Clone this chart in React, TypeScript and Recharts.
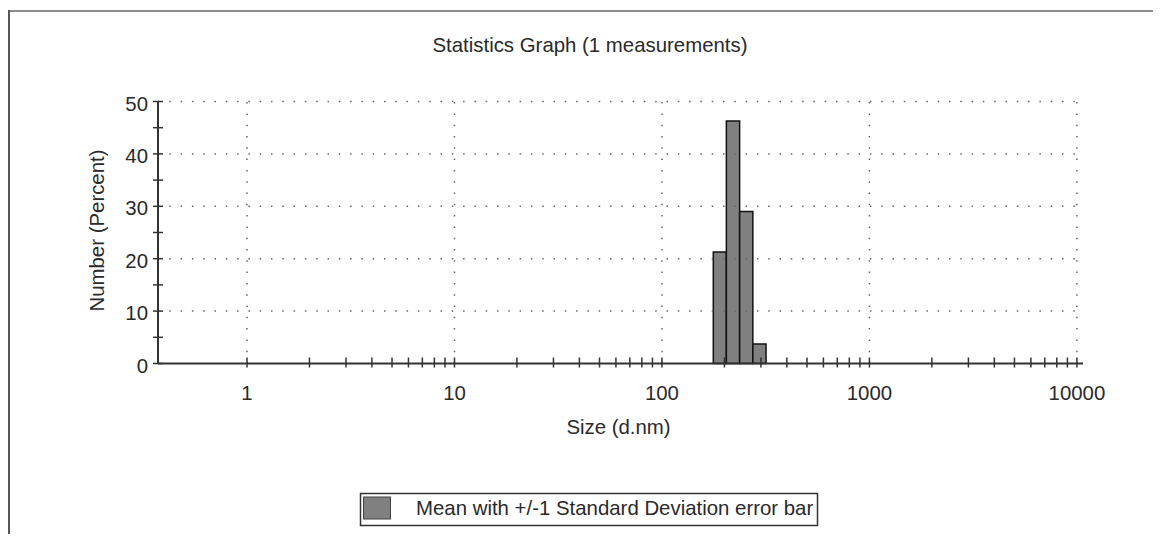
import { ComposedChart, XAxis, YAxis, ReferenceArea, ReferenceLine, Scatter, Label } from 'recharts';

// size bins (d.nm) and number distribution (%)
const sizeBinEdges = [176.8, 204.4, 236.8, 274.2, 317.5];
const sizeBinCenters = [190.1, 220.2, 255.0, 295.3];
const numberPercent = [21.3, 46.3, 29.0, 3.7];

const sizeTicks = [
  1, 2, 3, 4, 5, 6, 7, 8, 9,
  10, 20, 30, 40, 50, 60, 70, 80, 90,
  100, 200, 300, 400, 500, 600, 700, 800, 900,
  1000, 2000, 3000, 4000, 5000, 6000, 7000, 8000, 9000,
  10000,
];
const sizeLabels = [1, 10, 100, 1000, 10000];
const percentTicks = [0, 5, 10, 15, 20, 25, 30, 35, 40, 45, 50];
const percentLabels = [0, 10, 20, 30, 40, 50];
const sizeDomain = [0.3724, 10700];

const title = 'Statistics Graph (1 measurements)';
const legendText = 'Mean with +/-1 Standard Deviation error bar';

const font = '"Liberation Sans", Arial, sans-serif';
const fontSize = 20.4;
const textColor = '#2a2a2a';
const gridColor = '#666';

const bins = sizeBinCenters.map((size, i) => ({
  size,
  lower: sizeBinEdges[i],
  upper: sizeBinEdges[i + 1],
  percent: numberPercent[i],
}));

const SizeTick = (props: any) => {
  const { x, payload } = props;
  const y = props.y - 1;
  const v = payload.value;
  return (
    <g>
      <line x1={x} x2={x} y1={y - 5} y2={y + 5} stroke="#333" strokeWidth={1.5} />
      {sizeLabels.includes(v) && (
        <text x={x} y={y + 37} textAnchor="middle" fontSize={fontSize} fontFamily={font} fill={textColor}>
          {v}
        </text>
      )}
    </g>
  );
};

const PercentTick = (props: any) => {
  const { x, y, payload } = props;
  const v = payload.value;
  return (
    <g>
      <line x1={x - 5} x2={x + 5} y1={y} y2={y} stroke="#333" strokeWidth={1.5} />
      {percentLabels.includes(v) && (
        <text x={x - 10} y={y + 9} textAnchor="end" fontSize={fontSize} fontFamily={font} fill={textColor}>
          {v}
        </text>
      )}
    </g>
  );
};

const App = () => {
  return (
    <div style={{ position: 'relative', width: 1145, height: 526, overflow: 'hidden', background: '#fff' }}>
      <ComposedChart
        width={1145}
        height={526}
        data={bins}
        margin={{ top: 93.5, right: 70, bottom: 169.5, left: 149 }}
      >
        {percentLabels
          .filter((v) => v > 0)
          .map((v) => (
            <ReferenceLine
              key={`h${v}`}
              segment={[
                { x: sizeDomain[0], y: v },
                { x: 10000, y: v },
              ]}
              stroke={gridColor}
              strokeWidth={1.5}
              strokeDasharray="1.5 9.8"
            />
          ))}
        {sizeLabels.map((v) => (
          <ReferenceLine
            key={`v${v}`}
            segment={[
              { x: v, y: 0 },
              { x: v, y: 50 },
            ]}
            stroke={gridColor}
            strokeWidth={1.5}
            strokeDasharray="1.5 9.8"
          />
        ))}
        {bins.map((b) => (
          <ReferenceArea
            key={b.size}
            x1={b.lower}
            x2={b.upper}
            y1={0}
            y2={b.percent}
            fill="#808080"
            fillOpacity={1}
            stroke="#111"
            strokeWidth={1.5}
          />
        ))}
        <XAxis
          dataKey="size"
          type="number"
          scale="log"
          domain={sizeDomain}
          allowDataOverflow
          ticks={sizeTicks}
          interval={0}
          height={1}
          tickSize={0}
          tickMargin={0}
          tick={<SizeTick />}
          axisLine={{ stroke: '#333', strokeWidth: 2 }}
        >
          <Label
            content={({ viewBox }: any) => (
              <text
                x={viewBox.x + viewBox.width / 2 - 2}
                y={viewBox.y + 70}
                textAnchor="middle"
                fontSize={fontSize}
                fontFamily={font}
                fill={textColor}
              >
                Size (d.nm)
              </text>
            )}
          />
        </XAxis>
        <YAxis
          type="number"
          domain={[0, 50]}
          ticks={percentTicks}
          interval={0}
          width={1}
          tickSize={0}
          tickMargin={0}
          tick={<PercentTick />}
          axisLine={{ stroke: '#333', strokeWidth: 2 }}
        >
          <Label
            content={({ viewBox }: any) => {
              const cx = viewBox.x + viewBox.width - 54.5;
              const cy = viewBox.y + viewBox.height / 2 - 2;
              return (
                <text
                  x={cx}
                  y={cy}
                  transform={`rotate(-90, ${cx}, ${cy})`}
                  textAnchor="middle"
                  fontSize={fontSize}
                  fontFamily={font}
                  fill={textColor}
                >
                  Number (Percent)
                </text>
              );
            }}
          />
        </YAxis>
        <Scatter dataKey="percent" isAnimationActive={false} shape={() => <g />} />
      </ComposedChart>
      <svg
        width={1145}
        height={526}
        style={{ position: 'absolute', left: 0, top: 0, pointerEvents: 'none' }}
      >
        <line x1={0} x2={1145} y1={3} y2={3} stroke="#8c8c8c" strokeWidth={2} />
        <line x1={1} x2={1} y1={2} y2={526} stroke="#555" strokeWidth={2} />
        <text x={582} y={44} textAnchor="middle" fontSize={fontSize} fontFamily={font} fill={textColor}>
          {title}
        </text>
        <rect x={352.5} y={485.5} width={457} height={32} fill="#fff" stroke="#333" strokeWidth={1.5} />
        <rect x={355.5} y={489} width={27} height={22} fill="#808080" stroke="#444" strokeWidth={1} />
        <text x={408} y={507} fontSize={fontSize} fontFamily={font} fill={textColor}>
          {legendText}
        </text>
      </svg>
    </div>
  );
};

export default App;
